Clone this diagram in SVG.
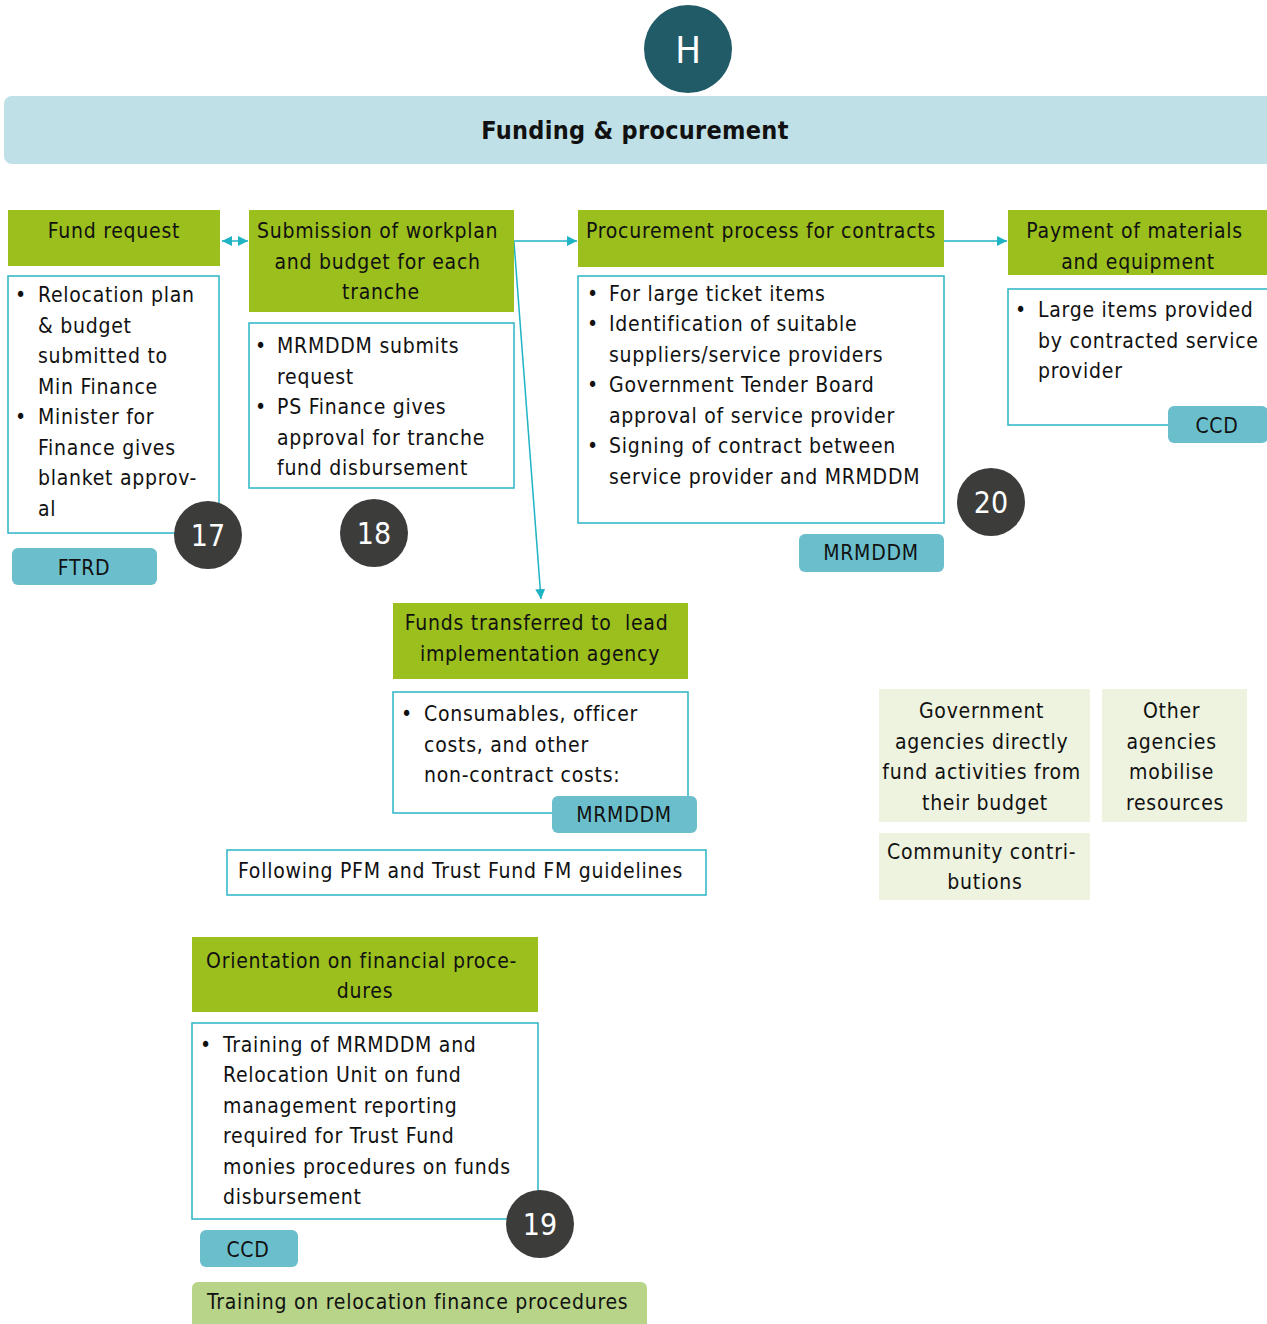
<svg xmlns="http://www.w3.org/2000/svg" width="1267" height="1324" viewBox="0 0 1267 1324">
  <defs>
    <marker id="ah" viewBox="0 0 10 10" refX="10" refY="5" markerWidth="10" markerHeight="10" markerUnits="userSpaceOnUse" orient="auto-start-reverse">
      <path d="M0,0 L10,5 L0,10 Z" fill="#1fb3c3"/>
    </marker>
    <style>
      text { font-family: "DejaVu Sans Condensed", "DejaVu Sans", sans-serif; font-stretch: condensed; fill: #111; }
      .t { font-size: 21px; letter-spacing: 0.75px; }
      .c { text-anchor: middle; }
      .hdr { fill: #9bbf1c; }
      .box { fill: #fff; stroke: #2bb5c5; stroke-width: 1.5; }
      .tag { fill: #6bbfcc; }
      .src { fill: #eef3e0; }
      .num { fill: #3c3c3b; }
      .numt { font-size: 30px; fill: #fff; text-anchor: middle; }
      .con { stroke: #1fb3c3; stroke-width: 1.5; fill: none; }
    </style>
  </defs>

  <!-- section badge and banner -->
  <g id="section-h">
    <circle cx="688" cy="49" r="44" fill="#215b68"/>
    <text x="688" y="63" class="numt" style="font-size:38px">H</text>
  </g>
  <g id="banner">
    <rect x="4" y="96" width="1270" height="68" rx="8" fill="#bfe0e6"/>
    <text x="635" y="139" class="c" style="font-size:25px;font-weight:bold;letter-spacing:0.3px">Funding &amp; procurement</text>
  </g>

  <!-- connectors -->
  <g id="connectors">
    <line x1="222" y1="241" x2="248" y2="241" class="con" marker-start="url(#ah)" marker-end="url(#ah)"/>
    <line x1="514" y1="241" x2="577" y2="241" class="con" marker-end="url(#ah)"/>
    <line x1="944" y1="241" x2="1007" y2="241" class="con" marker-end="url(#ah)"/>
    <line x1="514" y1="242" x2="541" y2="599" class="con" marker-end="url(#ah)"/>
  </g>

  <!-- 17 fund request -->
  <g id="fund-request">
    <rect x="8" y="210" width="212" height="56" class="hdr"/>
    <text x="114" y="238" class="t c">Fund request</text>
    <rect x="8" y="276" width="211" height="257" class="box"/>
    <text class="t">
      <tspan x="15" y="302">•</tspan><tspan x="38" y="302">Relocation plan</tspan>
      <tspan x="38" y="333">&amp; budget</tspan>
      <tspan x="38" y="363">submitted to</tspan>
      <tspan x="38" y="394">Min Finance</tspan>
      <tspan x="15" y="424">•</tspan><tspan x="38" y="424">Minister for</tspan>
      <tspan x="38" y="455">Finance gives</tspan>
      <tspan x="38" y="485">blanket approv-</tspan>
      <tspan x="38" y="516">al</tspan>
    </text>
    <rect x="12" y="548" width="145" height="37" rx="6" class="tag"/>
    <text x="84" y="575" class="t c">FTRD</text>
    <circle cx="208" cy="535" r="34" class="num"/>
    <text x="208" y="546" class="numt">17</text>
  </g>

  <!-- 18 submission of workplan -->
  <g id="submission">
    <rect x="249" y="210" width="265" height="102" class="hdr"/>
    <text class="t c">
      <tspan x="381" y="238">Submission of workplan</tspan>
      <tspan x="381" y="269">and budget for each</tspan>
      <tspan x="381" y="299">tranche</tspan>
    </text>
    <rect x="249" y="323" width="265" height="165" class="box"/>
    <text class="t">
      <tspan x="255" y="353">•</tspan><tspan x="277" y="353">MRMDDM submits</tspan>
      <tspan x="277" y="384">request</tspan>
      <tspan x="255" y="414">•</tspan><tspan x="277" y="414">PS Finance gives</tspan>
      <tspan x="277" y="445">approval for tranche</tspan>
      <tspan x="277" y="475">fund disbursement</tspan>
    </text>
    <circle cx="374" cy="533" r="34" class="num"/>
    <text x="374" y="544" class="numt">18</text>
  </g>

  <!-- 20 procurement process -->
  <g id="procurement">
    <rect x="578" y="210" width="366" height="57" class="hdr"/>
    <text x="761" y="238" class="t c">Procurement process for contracts</text>
    <rect x="578" y="276" width="366" height="247" class="box"/>
    <text class="t">
      <tspan x="587" y="301">•</tspan><tspan x="609" y="301">For large ticket items</tspan>
      <tspan x="587" y="331">•</tspan><tspan x="609" y="331">Identification of suitable</tspan>
      <tspan x="609" y="362">suppliers/service providers</tspan>
      <tspan x="587" y="392">•</tspan><tspan x="609" y="392">Government Tender Board</tspan>
      <tspan x="609" y="423">approval of service provider</tspan>
      <tspan x="587" y="453">•</tspan><tspan x="609" y="453">Signing of contract between</tspan>
      <tspan x="609" y="484">service provider and MRMDDM</tspan>
    </text>
    <rect x="799" y="534" width="145" height="38" rx="6" class="tag"/>
    <text x="871" y="560" class="t c">MRMDDM</text>
    <circle cx="991" cy="502" r="34" class="num"/>
    <text x="991" y="513" class="numt">20</text>
  </g>

  <!-- payment of materials -->
  <g id="payment">
    <rect x="1008" y="210" width="265" height="65" class="hdr"/>
    <text class="t c">
      <tspan x="1138" y="238">Payment of materials</tspan>
      <tspan x="1138" y="269">and equipment</tspan>
    </text>
    <rect x="1008" y="289" width="265" height="136" class="box"/>
    <text class="t">
      <tspan x="1015" y="317">•</tspan><tspan x="1038" y="317">Large items provided</tspan>
      <tspan x="1038" y="348">by contracted service</tspan>
      <tspan x="1038" y="378">provider</tspan>
    </text>
    <rect x="1168" y="406" width="100" height="37" rx="6" class="tag"/>
    <text x="1217" y="433" class="t c">CCD</text>
  </g>

  <!-- funds transferred -->
  <g id="funds-transferred">
    <rect x="393" y="603" width="295" height="76" class="hdr"/>
    <text class="t c">
      <tspan x="540" y="630">Funds transferred to&#160; lead</tspan>
      <tspan x="540" y="661">implementation agency</tspan>
    </text>
    <rect x="393" y="692" width="295" height="121" class="box"/>
    <text class="t">
      <tspan x="401" y="721">•</tspan><tspan x="424" y="721">Consumables, officer</tspan>
      <tspan x="424" y="752">costs, and other</tspan>
      <tspan x="424" y="782">non-contract costs:</tspan>
    </text>
    <rect x="552" y="796" width="145" height="37" rx="6" class="tag"/>
    <text x="624" y="822" class="t c">MRMDDM</text>
  </g>

  <!-- guidelines note -->
  <g id="guidelines">
    <rect x="227" y="850" width="479" height="45" class="box"/>
    <text x="238" y="878" class="t">Following PFM and Trust Fund FM guidelines</text>
  </g>

  <!-- funding sources -->
  <g id="gov-agencies">
    <rect x="879" y="689" width="211" height="133" class="src"/>
    <text class="t c">
      <tspan x="985" y="718">Government</tspan>
      <tspan x="985" y="749">agencies directly</tspan>
      <tspan x="985" y="779">fund activities from</tspan>
      <tspan x="985" y="810">their budget</tspan>
    </text>
  </g>
  <g id="other-agencies">
    <rect x="1102" y="689" width="145" height="133" class="src"/>
    <text class="t c">
      <tspan x="1175" y="718">Other</tspan>
      <tspan x="1175" y="749">agencies</tspan>
      <tspan x="1175" y="779">mobilise</tspan>
      <tspan x="1175" y="810">resources</tspan>
    </text>
  </g>
  <g id="community">
    <rect x="879" y="833" width="211" height="67" class="src"/>
    <text class="t c">
      <tspan x="985" y="859">Community contri-</tspan>
      <tspan x="985" y="889">butions</tspan>
    </text>
  </g>

  <!-- 19 orientation -->
  <g id="orientation">
    <rect x="192" y="937" width="346" height="75" class="hdr"/>
    <text class="t c">
      <tspan x="365" y="968">Orientation on financial proce-</tspan>
      <tspan x="365" y="998">dures</tspan>
    </text>
    <rect x="192" y="1023" width="346" height="196" class="box"/>
    <text class="t">
      <tspan x="200" y="1052">•</tspan><tspan x="223" y="1052">Training of MRMDDM and</tspan>
      <tspan x="223" y="1082">Relocation Unit on fund</tspan>
      <tspan x="223" y="1113">management reporting</tspan>
      <tspan x="223" y="1143">required for Trust Fund</tspan>
      <tspan x="223" y="1174">monies procedures on funds</tspan>
      <tspan x="223" y="1204">disbursement</tspan>
    </text>
    <rect x="200" y="1230" width="98" height="37" rx="6" class="tag"/>
    <text x="248" y="1257" class="t c">CCD</text>
    <circle cx="540" cy="1224" r="34" class="num"/>
    <text x="540" y="1235" class="numt">19</text>
  </g>

  <!-- training -->
  <g id="training">
    <rect x="192" y="1282" width="455" height="50" rx="6" fill="#b8d488"/>
    <text x="207" y="1309" class="t">Training on relocation finance procedures</text>
  </g>
</svg>
